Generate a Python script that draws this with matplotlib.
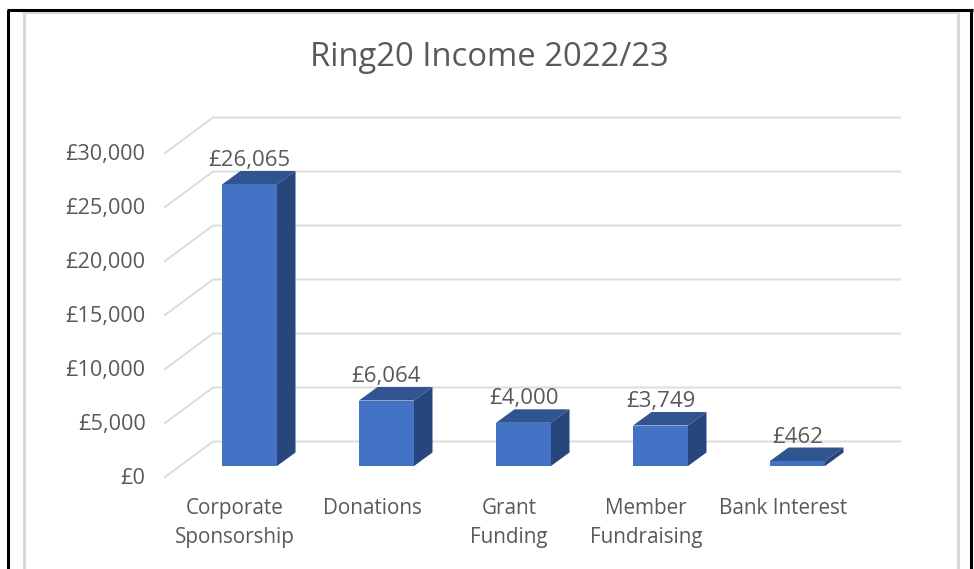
import matplotlib.pyplot as plt
from matplotlib.lines import Line2D
from matplotlib.transforms import ScaledTranslation

categories = ["Corporate\nSponsorship", "Donations", "Grant\nFunding", "Member\nFundraising", "Bank Interest"]
income = [26065, 6064, 4000, 3749, 462]
tick_values = [0, 5000, 10000, 15000, 20000, 25000, 30000]
tick_labels = ["£0", "£5,000", "£10,000", "£15,000", "£20,000", "£25,000", "£30,000"]

TEXT = "#595959"
FRONT = "#4472C4"
TOP = "#30548F"
SIDE = "#27467C"
GRID = "#DEDEDE"

# pixel scales of the picture
W, H = 974, 569
PX_PER_CAT = 137.0
PX_PER_GBP = 0.0108
BAR_X0 = 249.5
BAR_Y0 = 466.0
BAR_WIDTH = 55 / PX_PER_CAT
# bar depth
DX = 18.5 / PX_PER_CAT
DY = 13.5 / PX_PER_GBP

plt.rcParams["font.family"] = ["Open Sans", "DejaVu Sans"]

fig = plt.figure(figsize=(W / 100, H / 100), dpi=100)

# screenshot frame
for xs, ys, col in [
    ([23.5, 23.5], [569, 11.5], "#D9D9D9"),
    ([22, 957.5], [11.5, 11.5], "#D9D9D9"),
    ([957.5, 957.5], [11.5, 569], "#D9D9D9"),
    ([8, 8], [569, 9.5], "black"),
    ([6.5, 972.5], [9.5, 9.5], "black"),
    ([971, 971], [9.5, 569], "black"),
]:
    fig.add_artist(Line2D([x / W for x in xs], [1 - y / H for y in ys], color=col, lw=2.2, solid_capstyle="butt"))

ax = fig.add_axes([165 / W, 1 - 477 / H, 735 / W, 360 / H])
ax.set_xlim((165 - BAR_X0) / PX_PER_CAT, (900 - BAR_X0) / PX_PER_CAT)
ax.set_ylim(-(477 - BAR_Y0) / PX_PER_GBP, (BAR_Y0 - 117) / PX_PER_GBP)
ax.patch.set_alpha(0)
for s in ax.spines.values():
    s.set_visible(False)

# back wall and side wall gridlines
x_front, x_back = ax.get_xlim()[0], (213 - BAR_X0) / PX_PER_CAT
low = -(477 - BAR_Y0) / PX_PER_GBP
back = (BAR_Y0 - 441.5) / PX_PER_GBP
for v in tick_values:
    ax.plot([x_front, x_back, ax.get_xlim()[1]], [v + low, v + back, v + back], color=GRID, lw=1.5, zorder=1,
            solid_joinstyle="miter", clip_on=False)

xpos = list(range(len(income)))
ax.bar(xpos, income, width=BAR_WIDTH, color=FRONT, zorder=3)
for i, v in zip(xpos, income):
    l, r = i - BAR_WIDTH / 2, i + BAR_WIDTH / 2
    ax.fill([l, r, r + DX, l + DX], [v, v, v + DY, v + DY], color=TOP, lw=0, zorder=2)
    ax.fill([r, r + DX, r + DX, r], [0, DY, v + DY, v], color=SIDE, lw=0, zorder=2)
    ax.annotate(f"£{v:,}", (i, v), xytext=(0, 24), textcoords="offset pixels", ha="center", va="center",
                fontsize=16, color=TEXT, zorder=4)

ax.set_xticks(xpos, categories)
ax.set_yticks(tick_values, tick_labels)
ax.tick_params(axis="x", length=0, pad=15, labelsize=14.9, labelcolor=TEXT)
ax.tick_params(axis="y", length=0, pad=14, labelsize=15.6, labelcolor=TEXT)

# labels sit off the bar plane because of the 3D floor
x_shift = ScaledTranslation(-14.5 / 100, 0, fig.dpi_scale_trans)
y_shift = ScaledTranslation(0, -10 / 100, fig.dpi_scale_trans)
for lab in ax.get_xticklabels():
    lab.set_transform(lab.get_transform() + x_shift)
    lab.set_linespacing(1.48)
for lab in ax.get_yticklabels():
    lab.set_transform(lab.get_transform() + y_shift)

fig.text(489 / W, 1 - 58 / H, "Ring20 Income 2022/23", ha="center", va="center", fontsize=23.6, color=TEXT)

fig.savefig("out.png", dpi=100)
